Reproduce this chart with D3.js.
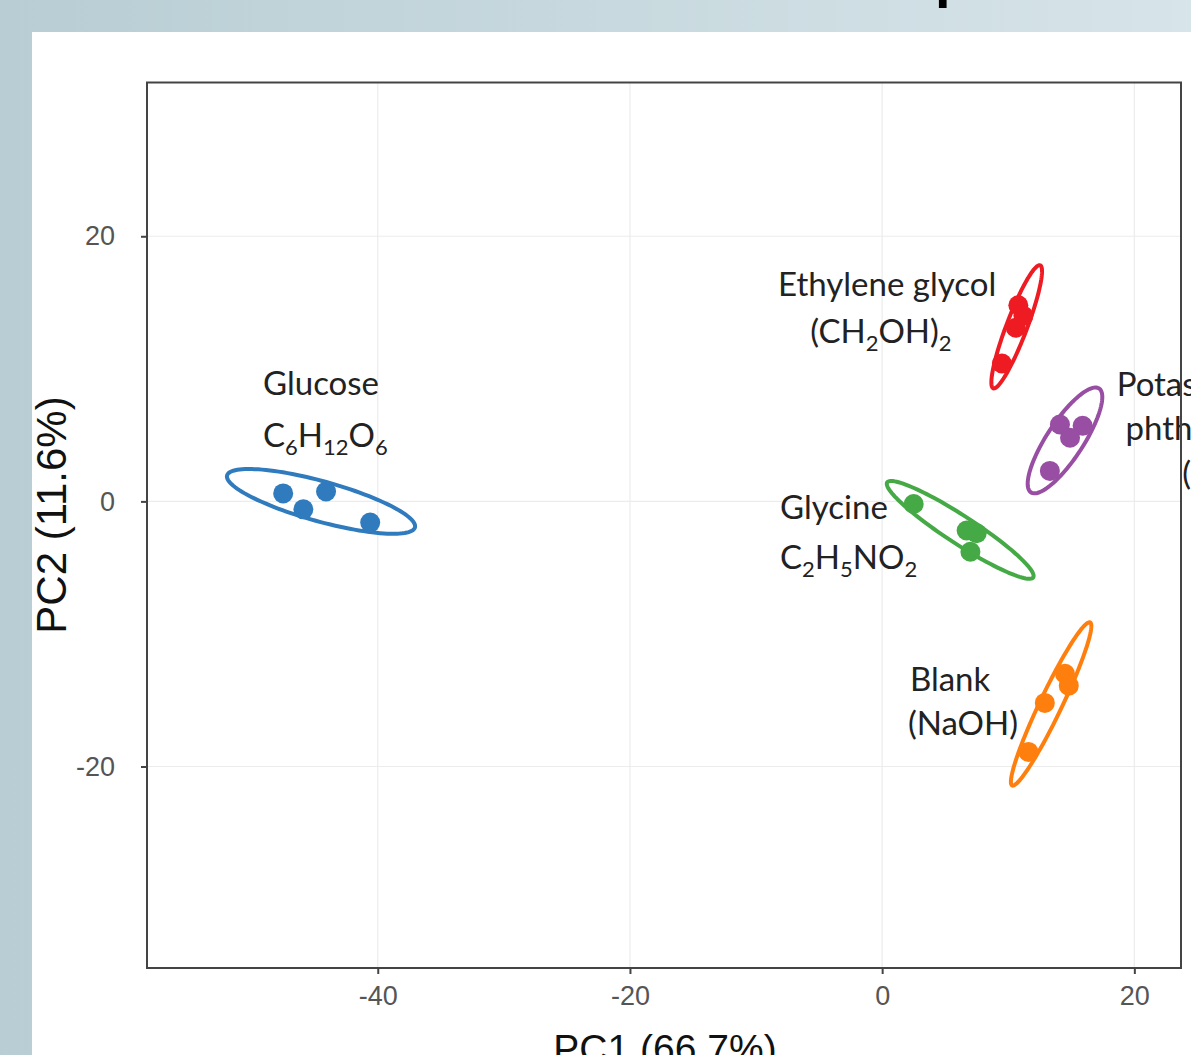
<!DOCTYPE html>
<html>
<head>
<meta charset="utf-8">
<script src="https://cdn.jsdelivr.net/npm/d3@7"></script>
<style>
  html, body { margin: 0; padding: 0; background: #fff; }
  svg { display: block; }
</style>
</head>
<body>
<svg id="chart" width="1191" height="1055"></svg>
<script>
'use strict';

// groups, in drawing order
const groups = ['Glucose', 'Ethylene glycol', 'Potassium phthalate', 'Glycine', 'Blank'];
const groupColors = ['#2f7bbd', '#ee1c22', '#984ea3', '#45aa46', '#ff7f0e'];

// PCA scores (PC1, PC2)
const pc1 = [
  [-47.5, -45.9, -44.1, -40.6],
  [10.8, 11.2, 10.6, 9.5],
  [14.1, 15.9, 14.9, 13.3],
  [2.5, 6.7, 7.5, 7.0],
  [14.5, 14.8, 12.9, 11.6]
];
const pc2 = [
  [0.6, -0.6, 0.75, -1.6],
  [14.8, 14.0, 13.1, 10.4],
  [5.8, 5.7, 4.8, 2.3],
  [-0.2, -2.2, -2.4, -3.8],
  [-13.0, -13.9, -15.2, -18.9]
];

// confidence ellipses: centre, major half-axis, minor half-axis (data units)
const ellipseCentre = [[-44.5, 0.0], [10.67, 13.17], [14.5, 4.6], [6.19, -2.15], [13.4, -15.28]];
const ellipseMajor = [[7.45, -1.96], [1.86, 4.64], [2.70, 3.92], [5.79, -3.58], [3.09, 6.15]];
const ellipseMinor = [[-0.42, -1.46], [0.76, -0.28], [1.21, -0.76], [-0.60, -0.89], [0.79, -0.36]];

// annotation lines: text ("_n" = subscript), anchor in data units
const labelText = ['Glucose', 'C_6H_12O_6', 'Ethylene glycol', '(CH_2OH)_2',
  'Potassium', 'phthalate', '(C_8H_5KO_4)', 'Glycine', 'C_2H_5NO_2', 'Blank', '(NaOH)'];
const labelX = [-49.1, -49.1, -8.25, -5.7, 18.6, 19.3, 23.8, -8.1, -8.1, 2.2, 2.05];
const labelY = [8.0, 4.1, 15.5, 11.95, 7.95, 4.6, 1.2, -1.3, -5.1, -14.3, -17.65];

const xTicks = [-40, -20, 0, 20];
const yTicks = [-20, 0, 20];
const xTitle = 'PC1 (66.7%)';
const yTitle = 'PC2 (11.6%)';

const svg = d3.select('#chart');
const W = 1191, H = 1055;
const frame = { left: 147, right: 1181, top: 82.5, bottom: 968 };

const x = d3.scaleLinear().domain([-58.3, 23.7]).range([frame.left, frame.right]);
const y = d3.scaleLinear().domain([-35.2, 31.6]).range([frame.bottom, frame.top]);

// slide background
const defs = svg.append('defs');
const grad = defs.append('linearGradient').attr('id', 'bg').attr('x1', 0).attr('x2', 1).attr('y1', 0).attr('y2', 0);
grad.append('stop').attr('offset', 0).attr('stop-color', '#b8ced4');
grad.append('stop').attr('offset', 1).attr('stop-color', '#d7e4e9');
svg.append('rect').attr('width', W).attr('height', H).attr('fill', 'url(#bg)');
svg.append('rect').attr('x', 32).attr('y', 32).attr('width', W - 32).attr('height', H - 32).attr('fill', '#fff');

// cut-off slide title (only a descender shows)
svg.append('text')
  .attr('x', 935).attr('y', -4)
  .attr('font-family', 'Liberation Sans, Arial, sans-serif')
  .attr('font-weight', 'bold').attr('font-size', 56)
  .attr('fill', '#000')
  .text('p');

// grid
const grid = svg.append('g');
grid.selectAll('.gx').data(xTicks).join('line')
  .attr('x1', d => x(d)).attr('x2', d => x(d))
  .attr('y1', frame.top).attr('y2', frame.bottom)
  .attr('stroke', '#ececec').attr('stroke-width', 1.2);
grid.selectAll('.gy').data(yTicks).join('line')
  .attr('y1', d => y(d)).attr('y2', d => y(d))
  .attr('x1', frame.left).attr('x2', frame.right)
  .attr('stroke', '#ececec').attr('stroke-width', 1.2);

// ellipses
const line = d3.line().x(d => x(d[0])).y(d => y(d[1])).curve(d3.curveLinearClosed);
const ellipses = groups.map((g, i) => d3.range(0, 120).map(k => {
  const t = k / 120 * 2 * Math.PI;
  return [
    ellipseCentre[i][0] + Math.cos(t) * ellipseMajor[i][0] + Math.sin(t) * ellipseMinor[i][0],
    ellipseCentre[i][1] + Math.cos(t) * ellipseMajor[i][1] + Math.sin(t) * ellipseMinor[i][1]
  ];
}));

svg.append('g').selectAll('path').data(ellipses).join('path')
  .attr('d', line)
  .attr('fill', 'none')
  .attr('stroke', (d, i) => groupColors[i])
  .attr('stroke-width', 4);

// points
groups.forEach((g, i) => {
  svg.append('g').selectAll('circle').data(pc1[i]).join('circle')
    .attr('cx', d => x(d))
    .attr('cy', (d, j) => y(pc2[i][j]))
    .attr('r', 10)
    .attr('fill', groupColors[i]);
});

// annotations
const labels = svg.append('g')
  .attr('font-family', 'Lato, Carlito, Calibri, sans-serif')
  .attr('font-size', 33)
  .attr('fill', '#222');
labelText.forEach((s, i) => {
  const t = labels.append('text').attr('x', x(labelX[i])).attr('y', y(labelY[i]));
  let shift = 0;
  s.split(/(_\d+)/).filter(p => p.length).forEach(p => {
    if (p[0] === '_') {
      t.append('tspan').attr('font-size', 22).attr('dy', 8 - shift).text(p.slice(1));
      shift = 8;
    } else {
      t.append('tspan').attr('dy', -shift).text(p);
      shift = 0;
    }
  });
});

// frame
svg.append('rect')
  .attr('x', frame.left).attr('y', frame.top)
  .attr('width', frame.right - frame.left).attr('height', frame.bottom - frame.top)
  .attr('fill', 'none').attr('stroke', '#444').attr('stroke-width', 2);

// axes
const fmt = d => String(d);
const xAxis = svg.append('g')
  .attr('transform', `translate(0,${frame.bottom})`)
  .call(d3.axisBottom(x).tickValues(xTicks).tickFormat(fmt).tickSize(6).tickPadding(12));
const yAxis = svg.append('g')
  .attr('transform', `translate(${frame.left},0)`)
  .call(d3.axisLeft(y).tickValues(yTicks).tickFormat(fmt).tickSize(6).tickPadding(26));
[xAxis, yAxis].forEach(a => {
  a.select('.domain').remove();
  a.selectAll('line').attr('stroke', '#444').attr('stroke-width', 2);
  a.selectAll('text')
    .attr('fill', '#555')
    .attr('font-family', 'Liberation Sans, Arial, sans-serif')
    .attr('font-size', 27);
});

svg.append('text')
  .attr('x', 665).attr('y', 1062)
  .attr('text-anchor', 'middle')
  .attr('font-family', 'Liberation Sans, Arial, sans-serif')
  .attr('font-size', 39).attr('fill', '#111')
  .text(xTitle);

svg.append('text')
  .attr('transform', 'translate(66,515) rotate(-90)')
  .attr('text-anchor', 'middle')
  .attr('font-family', 'Liberation Sans, Arial, sans-serif')
  .attr('font-size', 42).attr('fill', '#111')
  .text(yTitle);
</script>
</body>
</html>
